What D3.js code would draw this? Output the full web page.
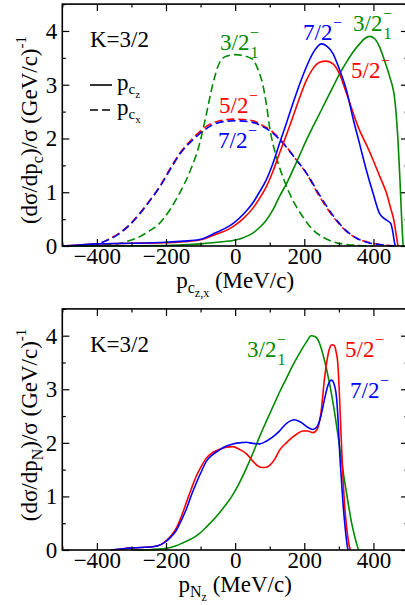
<!DOCTYPE html>
<html>
<head>
<meta charset="utf-8">
<script src="https://cdn.jsdelivr.net/npm/d3@7"></script>
<style>
body{margin:0;background:#fff}
text{font-family:"Liberation Serif","Times New Roman",serif;fill:#000}
</style>
</head>
<body>
<svg id="chart" width="405" height="605"></svg>
<script>
// top panel, core momentum p_cz (solid) and p_cx (dashed)
let czGreen = [[-500,0],[-300,0.005],[-200,0.01],[-100,0.04],[-50,0.07],[0,0.11],[25,0.16],[51,0.24],[70,0.34],[90,0.48],[110,0.68],[128,0.92],[148,1.15],[167,1.41],[186,1.68],[206,1.97],[225,2.22],[244,2.46],[264,2.72],[283,2.96],[302,3.2],[322,3.42],[340,3.6],[360,3.76],[375,3.86],[389,3.9],[403,3.86],[418,3.7],[432,3.45],[447,3.15],[462,2.71],[471,1.97],[477,1.2],[481,0.6],[484,0.2],[486,0]]
let czRed = [[-500,0],[-450,0.02],[-400,0.04],[-300,0.05],[-200,0.06],[-150,0.08],[-103,0.11],[-55,0.22],[-20,0.31],[0,0.39],[25,0.52],[51,0.7],[70,0.88],[90,1.1],[110,1.4],[128,1.72],[148,2.06],[167,2.4],[186,2.75],[206,3.08],[225,3.3],[244,3.42],[264,3.44],[283,3.39],[302,3.2],[322,2.84],[340,2.5],[360,2.15],[380,1.88],[399,1.6],[418,1.3],[438,0.98],[450,0.7],[460,0.45],[466,0.2],[471,0]]
let czBlue = [[-500,0],[-450,0.02],[-400,0.04],[-300,0.05],[-200,0.07],[-150,0.09],[-103,0.12],[-55,0.25],[-20,0.36],[0,0.45],[25,0.6],[51,0.8],[70,1.0],[90,1.23],[110,1.55],[128,1.9],[148,2.28],[167,2.65],[186,3.0],[206,3.33],[228,3.62],[249,3.76],[265,3.72],[283,3.58],[302,3.28],[322,2.9],[340,2.4],[360,1.9],[380,1.4],[399,0.98],[418,0.6],[438,0.48],[450,0.42],[455,0.3],[460,0.1],[463,0]]
let cxGreen = [[-450,0],[-400,0.01],[-350,0.03],[-316,0.08],[-277,0.17],[-248,0.28],[-219,0.42],[-190,0.66],[-161,0.98],[-130,1.4],[-103,1.9],[-85,2.4],[-65,3.0],[-46,3.4],[-26,3.53],[0,3.56],[25,3.54],[51,3.47],[65,3.3],[80,3.0],[90,2.65],[100,2.2],[119,1.66],[140,1.25],[167,0.85],[195,0.55],[225,0.3],[255,0.16],[283,0.08],[320,0.03],[360,0.01],[400,0]]
let cxRed = [[-420,0.02],[-393,0.05],[-365,0.13],[-335,0.24],[-305,0.4],[-277,0.6],[-248,0.84],[-219,1.1],[-190,1.42],[-161,1.72],[-123,2.0],[-84,2.22],[-45,2.33],[0,2.36],[51,2.33],[80,2.24],[109,2.12],[148,1.85],[175,1.62],[206,1.35],[244,0.92],[283,0.55],[322,0.27],[350,0.15],[380,0.08],[428,0.02],[460,0]]
let cxBlue = [[-420,0.02],[-393,0.05],[-365,0.12],[-335,0.23],[-305,0.39],[-277,0.59],[-248,0.83],[-219,1.09],[-190,1.4],[-161,1.7],[-123,1.97],[-84,2.18],[-45,2.3],[0,2.33],[51,2.3],[80,2.22],[109,2.1],[148,1.84],[175,1.62],[206,1.36],[244,0.95],[283,0.57],[322,0.28],[350,0.15],[380,0.07],[428,0.02],[460,0]]

// bottom panel, nucleon momentum p_Nz
let nzGreen = [[-300,0],[-250,0.005],[-200,0.03],[-171,0.08],[-142,0.16],[-120,0.23],[-103,0.31],[-80,0.45],[-55,0.62],[-30,0.82],[-7,1.03],[12,1.25],[32,1.52],[51,1.8],[71,2.12],[90,2.4],[109,2.67],[128,2.94],[148,3.2],[167,3.45],[186,3.67],[205,3.87],[220,4.0],[232,3.98],[244,3.86],[258,3.55],[273,3.11],[288,2.55],[302,1.93],[315,1.35],[327,0.87],[337,0.5],[346,0.25],[352,0.1],[357,0]]
let nzRed = [[-360,0],[-330,0.02],[-297,0.04],[-239,0.06],[-215,0.1],[-200,0.17],[-185,0.27],[-171,0.4],[-156,0.62],[-142,0.87],[-128,1.12],[-113,1.37],[-98,1.56],[-84,1.71],[-65,1.82],[-45,1.88],[-25,1.92],[-7,1.93],[12,1.88],[32,1.8],[51,1.66],[71,1.55],[85,1.54],[100,1.58],[115,1.7],[128,1.86],[148,2.0],[167,2.11],[182,2.18],[196,2.22],[210,2.22],[225,2.19],[237,2.25],[248,2.55],[259,3.23],[266,3.55],[273,3.76],[280,3.83],[286,3.82],[292,3.7],[297,3.48],[302,2.85],[307,2.05],[312,1.35],[317,0.81],[322,0.45],[327,0.19],[331,0.05],[334,0]]
let nzBlue = [[-360,0],[-330,0.02],[-297,0.04],[-239,0.06],[-215,0.1],[-200,0.16],[-185,0.25],[-171,0.36],[-156,0.55],[-142,0.75],[-128,1.0],[-113,1.24],[-98,1.46],[-84,1.65],[-65,1.78],[-45,1.87],[-25,1.94],[-7,1.98],[12,2.0],[32,2.01],[51,1.99],[71,1.98],[90,2.03],[109,2.11],[128,2.22],[148,2.36],[160,2.41],[172,2.43],[186,2.4],[196,2.36],[210,2.29],[225,2.25],[237,2.3],[248,2.5],[258,2.8],[266,3.02],[273,3.14],[279,3.17],[285,3.12],[293,2.86],[298,2.4],[302,1.86],[307,1.35],[312,0.87],[317,0.5],[322,0.19],[325,0.05],[327,0]]

let xMajor = [-400,-200,0,200,400]
let xMinor = [-500,-300,-100,100,300,500]
let yMajor = [0,1,2,3,4]
let yMinor = [0.5,1.5,2.5,3.5,4.5]

const GREEN = '#008b00', RED = '#ff0000', BLUE = '#0000ff'
const FS = 23

let svg = d3.select('#chart')

function drawPanel(top,bottom,series,opts){
	let x = d3.scaleLinear().domain([-500,500]).range([62.3,408])
	let y = d3.scaleLinear().domain([0,4.5]).range([bottom,top])
	let g = svg.append('g')

	let line = d3.line()
		.x(function(d){return x(d[0])})
		.y(function(d){return y(d[1])})
		.curve(d3.curveMonotoneX)

	series.forEach(function(s){
		g.append('path')
			.attr('d',line(s.data))
			.attr('fill','none')
			.attr('stroke',s.colour)
			.attr('stroke-width',1.6)
			.attr('stroke-dasharray',s.dash ? '8,4' : null)
	})

	// axes, ticks pointing inward
	let ax = []
	ax.push(g.append('g').attr('transform','translate(0,'+bottom+')')
		.call(d3.axisBottom(x).tickValues(xMajor).tickSize(-7).tickPadding(1.5).tickFormat(d3.format('d'))))
	ax.push(g.append('g').attr('transform','translate(0,'+bottom+')')
		.call(d3.axisBottom(x).tickValues(xMinor).tickSize(-3.5).tickFormat('')))
	ax.push(g.append('g').attr('transform','translate(0,'+top+')')
		.call(d3.axisTop(x).tickValues(xMajor).tickSize(-7).tickFormat('')))
	ax.push(g.append('g').attr('transform','translate(0,'+top+')')
		.call(d3.axisTop(x).tickValues(xMinor).tickSize(-3.5).tickFormat('')))
	ax.push(g.append('g').attr('transform','translate(62.3,0)')
		.call(d3.axisLeft(y).tickValues(yMajor).tickSize(-7).tickPadding(5).tickFormat(d3.format('d'))))
	ax.push(g.append('g').attr('transform','translate(62.3,0)')
		.call(d3.axisLeft(y).tickValues(yMinor).tickSize(-3.5).tickFormat('')))
	ax.push(g.append('g').attr('transform','translate(408,0)')
		.call(d3.axisRight(y).tickValues(yMajor).tickSize(-7).tickFormat('')))
	ax.push(g.append('g').attr('transform','translate(408,0)')
		.call(d3.axisRight(y).tickValues(yMinor).tickSize(-3.5).tickFormat('')))
	ax.forEach(function(a){
		a.select('.domain').remove()
		a.selectAll('line').attr('stroke','#000').attr('stroke-width',1.2)
		a.selectAll('text').attr('font-size',FS).attr('font-family','Liberation Serif').attr('fill','#000')
	})

	g.append('rect')
		.attr('x',62.3).attr('y',top)
		.attr('width',408-62.3).attr('height',bottom-top)
		.attr('fill','none').attr('stroke','#000').attr('stroke-width',1.6)

	// y title
	let yt = g.append('text')
		.attr('transform','translate(37,'+((top+bottom)/2+opts.ymid)+') rotate(-90)')
		.attr('text-anchor','middle').attr('font-size',FS)
	yt.append('tspan').text('(d\u03c3/dp')
	yt.append('tspan').attr('font-size',16).attr('dy',6).text(opts.ysub)
	yt.append('tspan').attr('dy',-6).text(')/\u03c3  (GeV/c)')
	yt.append('tspan').attr('font-size',15).attr('dy',-11).text('-1')

	// x title
	let xt = g.append('text')
		.attr('x',x(0)).attr('y',bottom+opts.xdy)
		.attr('text-anchor','middle').attr('font-size',FS)
	xt.append('tspan').text('p')
	xt.append('tspan').attr('font-size',16).attr('dy',5).text(opts.sub)
	xt.append('tspan').attr('font-size',12).attr('dy',4).text(opts.subsub)
	xt.append('tspan').attr('dy',-9).text(' (MeV/c)')

	g.append('text').attr('x',90).attr('y',top+opts.kdy).attr('font-size',FS).text('K=3/2')

	return {g:g,x:x,y:y}
}

function stateLabel(g,px,py,main,sub,colour){
	let t = g.append('text').attr('x',px).attr('y',py).attr('font-size',FS).style('fill',colour).text(main)
	let w = t.node().getComputedTextLength()
	g.append('text').attr('x',px+w+0.5).attr('y',py-12).attr('font-size',16).style('fill',colour).text('\u2212')
	if(sub){
		g.append('text').attr('x',px+w+1).attr('y',py+8).attr('font-size',16).style('fill',colour).text(sub)
	}
}

let p1 = drawPanel(4.1,246,[
	{data:cxGreen,colour:GREEN,dash:true},
	{data:cxRed,colour:RED,dash:true},
	{data:cxBlue,colour:BLUE,dash:true},
	{data:czGreen,colour:GREEN,dash:false},
	{data:czRed,colour:RED,dash:false},
	{data:czBlue,colour:BLUE,dash:false}
],{ysub:'c',ymid:5,sub:'c',subsub:'z,x',xdy:42,kdy:43})

stateLabel(p1.g,220,50,'3/2','1',GREEN)
stateLabel(p1.g,303,40,'7/2',null,BLUE)
stateLabel(p1.g,353,31,'3/2','1',GREEN)
stateLabel(p1.g,351,78,'5/2',null,RED)
stateLabel(p1.g,219,113,'5/2',null,RED)
stateLabel(p1.g,218,148,'7/2',null,BLUE)

// legend
let legend = [{y:85,dash:false,sub:'z'},{y:110,dash:true,sub:'x'}]
legend.forEach(function(l){
	p1.g.append('line').attr('x1',90).attr('x2',112).attr('y1',l.y).attr('y2',l.y)
		.attr('stroke','#000').attr('stroke-width',1.6).attr('stroke-dasharray',l.dash ? '8,4' : null)
	let t = p1.g.append('text').attr('x',117).attr('y',l.y+5).attr('font-size',FS)
	t.append('tspan').text('p')
	t.append('tspan').attr('font-size',15).attr('dy',4).text('c')
	t.append('tspan').attr('font-size',11).attr('dy',4).text(l.sub)
})

let p2 = drawPanel(308.9,550,[
	{data:nzGreen,colour:GREEN,dash:false},
	{data:nzRed,colour:RED,dash:false},
	{data:nzBlue,colour:BLUE,dash:false}
],{ysub:'N',ymid:-4.5,sub:'N',subsub:'z',xdy:42,kdy:43})

stateLabel(p2.g,247,357,'3/2','1',GREEN)
stateLabel(p2.g,345,357,'5/2',null,RED)
stateLabel(p2.g,350,398,'7/2',null,BLUE)
</script>
</body>
</html>
